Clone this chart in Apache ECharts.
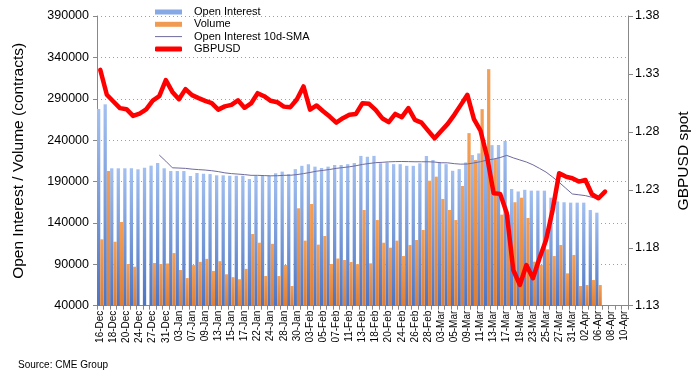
<!DOCTYPE html>
<html><head><meta charset="utf-8">
<script src="https://cdn.jsdelivr.net/npm/echarts@6/dist/echarts.min.js"></script>
<style>html,body{margin:0;padding:0;background:#fff}#c{width:700px;height:379px}</style>
</head><body><div id="c"></div>
<script>
const categories = [
 '16-Dec','17-Dec','18-Dec','19-Dec','20-Dec','23-Dec','24-Dec','26-Dec','27-Dec','30-Dec','31-Dec',
 '02-Jan','03-Jan','06-Jan','07-Jan','08-Jan','09-Jan','10-Jan','13-Jan','14-Jan','15-Jan','16-Jan','17-Jan','21-Jan','22-Jan','23-Jan','24-Jan','27-Jan','28-Jan','29-Jan','30-Jan','31-Jan',
 '03-Feb','04-Feb','05-Feb','06-Feb','07-Feb','10-Feb','11-Feb','12-Feb','13-Feb','14-Feb','18-Feb','19-Feb','20-Feb','21-Feb','24-Feb','25-Feb','26-Feb','27-Feb','28-Feb',
 '02-Mar','03-Mar','04-Mar','05-Mar','06-Mar','09-Mar','10-Mar','11-Mar','12-Mar','13-Mar','16-Mar','17-Mar','18-Mar','19-Mar','20-Mar','23-Mar','24-Mar','25-Mar','26-Mar','27-Mar','30-Mar','31-Mar',
 '01-Apr','02-Apr','03-Apr','06-Apr','07-Apr','08-Apr','09-Apr','10-Apr'
];
const openInterest = [
 277700,283300,206000,206000,206000,206000,204800,206700,209200,212400,206000,
 202700,202700,202700,196700,200300,199500,199000,197500,197500,197000,197000,197000,193000,197000,197000,197000,200000,202000,199000,205000,209000,
 211000,208000,206500,208000,210000,210000,211000,212400,221000,220000,221000,212000,213000,211000,211000,209000,209000,212000,221000,
 216000,213000,211000,203000,205000,213000,222000,224000,231000,234000,234000,239000,181000,178000,180000,179000,179000,179000,170500,166000,165000,164500,
 164500,164500,155600,152400,null,null,null,null
];
const volume = [
 120200,202700,117300,141100,90400,87100,null,null,91600,90400,91000,
 103600,83100,73400,89100,93000,96600,82000,93800,78000,74500,72000,84500,126600,116100,75900,114800,75900,89200,63800,157700,118600,
 162900,113800,124200,90400,97000,95200,92800,90200,155600,91200,143500,116100,110100,118600,100000,113300,119400,131500,191000,
 195900,169000,155600,143500,184600,248500,216000,277500,325800,217300,150000,150000,165000,170500,146000,93200,89200,108100,100000,113300,79100,101300,
 63800,65000,71000,65000,null,null,null,null
];
const oiSma10 = [
 null,null,null,null,null,null,null,null,null,222000,214600,
 206600,206300,205900,205000,204400,203900,203100,202000,200500,199600,199000,198400,197500,197500,197200,196900,197000,197500,197600,198400,199600,
 201000,202500,203500,204600,205900,206900,207800,209100,210700,211800,212800,213200,213800,214100,214200,214100,213900,213900,213900,
 213500,212700,212600,211600,211000,211200,212500,214000,215900,217200,219000,221600,218600,216100,213600,210200,205900,201400,195400,189000,182000,175000,
 174000,173000,171000,169000,null,null,null,null
];
const gbpusd = [
 1.3335,1.3120,1.3062,1.3005,1.2996,1.2938,1.2958,1.2995,1.3070,1.3108,1.3247,
 1.3145,1.3082,1.3169,1.3117,1.3091,1.3068,1.3048,1.2992,1.3020,1.3033,1.3072,1.3008,1.3045,1.3134,1.3108,1.3068,1.3056,1.3018,1.3013,1.3082,1.3192,
 1.2992,1.3028,1.2978,1.2932,1.2880,1.2918,1.2947,1.2955,1.3048,1.3042,1.2990,1.2918,1.2884,1.2955,1.2927,1.3005,1.2904,1.2880,1.2811,
 1.2745,1.2808,1.2869,1.2947,1.3033,1.3120,1.2910,1.2810,1.2587,1.2271,1.2265,1.2100,1.1608,1.1479,1.1651,1.1537,1.1709,1.1867,1.2126,1.2443,1.2414,1.2400,
 1.2371,1.2385,1.2262,1.2227,1.2284,null,null,null
];
const leftTicks = [40000,90000,140000,190000,240000,290000,340000,390000];
const rightTicks = [1.13,1.18,1.23,1.28,1.33,1.38];

const FONT = "'Liberation Sans', Arial, sans-serif";
const blueGrad = new echarts.graphic.LinearGradient(0,0,0,1,[{offset:0,color:'#a3c0f0'},{offset:1,color:'#4b74c2'}]);
const orangeGrad = new echarts.graphic.LinearGradient(0,0,0,1,[{offset:0,color:'#f4a058'},{offset:1,color:'#de7e36'}]);

const chart = echarts.init(document.getElementById('c'), null, {renderer:'canvas'});
chart.setOption({
  animation:false,
  backgroundColor:'#fff',
  textStyle:{fontFamily:FONT},
  grid:{left:97, right:72, top:16, bottom:73.3, containLabel:false},
  legend:{
    orient:'vertical', left:155, top:6, padding:0, itemWidth:27, itemHeight:5, itemGap:0.3,
    textStyle:{fontFamily:FONT, fontSize:11, color:'#000', lineHeight:12, padding:[0,0,0,7]},
    data:[
      {name:'Open Interest', icon:'rect', itemStyle:{color:'#86a9e6'}},
      {name:'Volume', icon:'rect', itemStyle:{color:'#f09a52'}},
      {name:'Open Interest 10d-SMA', icon:'path://M0,0H27V1H0Z', itemStyle:{color:'#6f6a9e'}},
      {name:'GBPUSD', icon:'roundRect', itemStyle:{color:'#ff0000'}}
    ]
  },
  xAxis:{
    type:'category', data:categories, boundaryGap:true,
    axisLine:{show:true, lineStyle:{color:'#888', width:1}},
    axisTick:{show:true, interval:0, length:4, lineStyle:{color:'#888'}},
    axisLabel:{interval:1, rotate:90, fontSize:10, color:'#000', margin:5, fontFamily:FONT},
    splitLine:{show:false}
  },
  yAxis:[
    {
      type:'value', min:leftTicks[0], max:leftTicks[leftTicks.length-1], interval:leftTicks[1]-leftTicks[0],
      name:'Open Interest / Volume (contracts)', nameLocation:'middle', nameGap:70, nameRotate:90,
      nameTextStyle:{fontSize:15.5, color:'#000', fontFamily:FONT},
      axisLine:{show:true, lineStyle:{color:'#888'}},
      axisTick:{show:true, length:4, lineStyle:{color:'#888'}},
      axisLabel:{fontSize:12.5, color:'#000', margin:8, fontFamily:FONT, formatter:v=>String(Math.round(v))},
      splitLine:{show:true, lineStyle:{color:'#a0a0a0', type:[1,3], width:1}}
    },
    {
      type:'value', min:rightTicks[0], max:rightTicks[rightTicks.length-1], interval:0.05, position:'right',
      name:'GBPUSD spot', nameLocation:'middle', nameGap:48, nameRotate:90,
      nameTextStyle:{fontSize:15.5, color:'#000', fontFamily:FONT},
      axisLine:{show:true, lineStyle:{color:'#888'}},
      axisTick:{show:true, length:5, lineStyle:{color:'#888'}},
      axisLabel:{fontSize:12.5, color:'#000', margin:7, fontFamily:FONT, formatter:v=>v.toFixed(2)},
      splitLine:{show:false}
    }
  ],
  series:[
    {name:'Open Interest', type:'bar', data:openInterest, yAxisIndex:0, barGap:'0%', barCategoryGap:'0%',
     itemStyle:{color:blueGrad}, z:2},
    {name:'Volume', type:'bar', data:volume, yAxisIndex:0,
     itemStyle:{color:orangeGrad}, z:2},
    {name:'Open Interest 10d-SMA', type:'line', data:oiSma10, yAxisIndex:0, symbol:'none', showSymbol:false,
     lineStyle:{color:'#6f6a9e', width:1}, itemStyle:{color:'#6f6a9e'}, z:3},
    {name:'GBPUSD', type:'line', data:gbpusd, yAxisIndex:1, symbol:'none', showSymbol:false,
     lineStyle:{color:'#ff0000', width:4.5, cap:'round', join:'round'}, itemStyle:{color:'#ff0000'}, z:4}
  ],
  graphic:[
    {type:'text', left:18, top:360, style:{text:'Source: CME Group', font:"10px 'Liberation Sans', Arial, sans-serif", fill:'#000'}}
  ]
});
</script></body></html>
